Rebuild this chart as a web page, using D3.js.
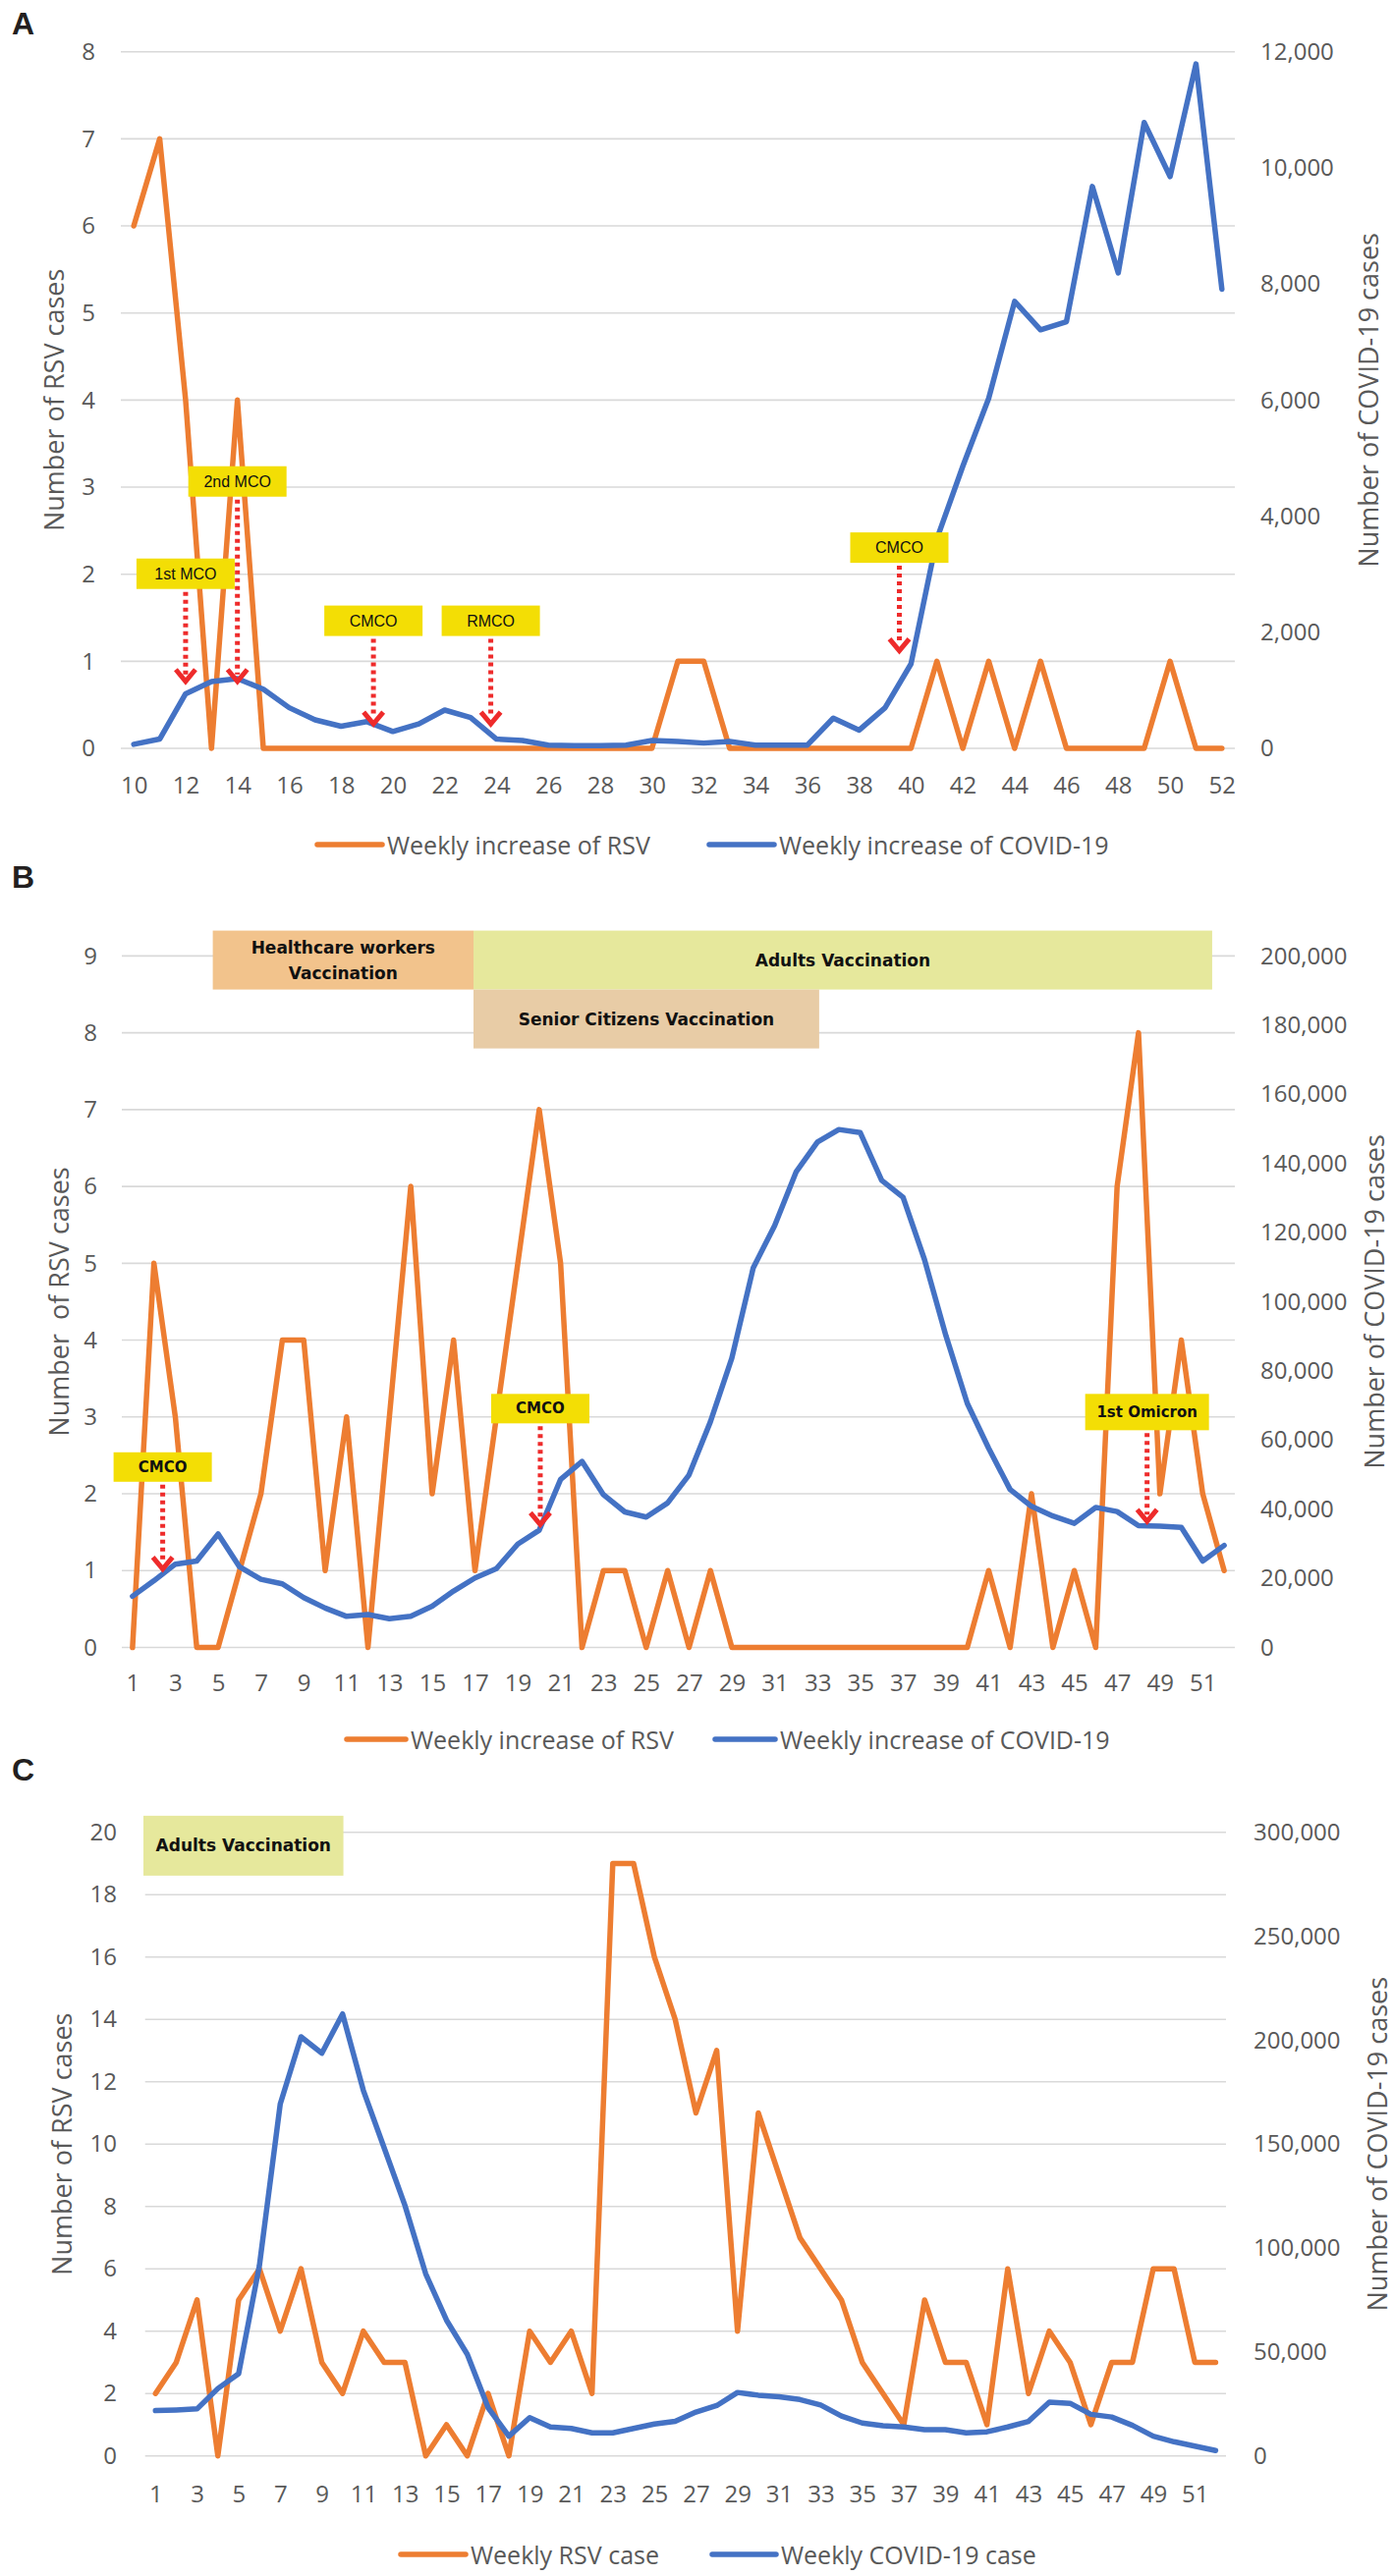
<!DOCTYPE html>
<html>
<head>
<meta charset="utf-8">
<script src="https://cdnjs.cloudflare.com/ajax/libs/d3/7.8.5/d3.min.js"></script>
<style>
  body { margin: 0; background: #fff; }
  svg { display: block; }
</style>
</head>
<body>
<svg id="chart" width="1418" height="2623"></svg>
<script>
// ---- data ----
const weeksA = [10, 11, 12, 13, 14, 15, 16, 17, 18, 19, 20, 21, 22, 23, 24, 25, 26, 27, 28, 29, 30,
  31, 32, 33, 34, 35, 36, 37, 38, 39, 40, 41, 42, 43, 44, 45, 46, 47, 48, 49, 50, 51, 52];
const rsvA = [6, 7, 4, 0, 4, 0, 0, 0, 0, 0, 0, 0, 0, 0, 0, 0, 0, 0, 0, 0, 0,
  1, 1, 0, 0, 0, 0, 0, 0, 0, 0, 1, 0, 1, 0, 1, 0, 0, 0, 0, 1, 0, 0];
const covidA = [70, 160, 940, 1150, 1200, 1020, 700, 490, 380, 460, 290, 420, 660, 530, 160, 135, 56, 47, 47, 56, 135,
  118, 91, 118, 56, 56, 56, 520, 315, 700, 1455, 3610, 4860, 6030, 7700, 7210, 7350, 9680, 8190, 10780, 9850, 11790, 7910];
const xTicksA = [10, 12, 14, 16, 18, 20, 22, 24, 26, 28, 30, 32, 34, 36, 38, 40, 42, 44, 46, 48, 50, 52];

const weeksBC = [1, 2, 3, 4, 5, 6, 7, 8, 9, 10, 11, 12, 13, 14, 15, 16, 17, 18, 19, 20, 21, 22, 23, 24, 25, 26,
  27, 28, 29, 30, 31, 32, 33, 34, 35, 36, 37, 38, 39, 40, 41, 42, 43, 44, 45, 46, 47, 48, 49, 50, 51, 52];
const xTicksBC = [1, 3, 5, 7, 9, 11, 13, 15, 17, 19, 21, 23, 25, 27, 29, 31, 33, 35, 37, 39, 41, 43, 45, 47, 49, 51];

const rsvB = [0, 5, 3, 0, 0, 1, 2, 4, 4, 1, 3, 0, 3, 6, 2, 4, 1, 3, 5, 7, 5, 0, 1, 1, 0, 1,
  0, 1, 0, 0, 0, 0, 0, 0, 0, 0, 0, 0, 0, 0, 1, 0, 2, 0, 1, 0, 6, 8, 2, 4, 2, 1];
const covidB = [14800, 19300, 24100, 25000, 32800, 23300, 19700, 18400, 14400, 11400, 9000, 9500, 8300, 9000,
  11900, 16300, 20100, 22800, 29900, 33900, 48600, 53800, 44200, 39200, 37700, 41800, 49900,
  65300, 83700, 109800, 122000, 137500, 146200, 149800, 148900, 135100, 130200, 112200, 90200,
  70600, 57600, 45700, 40800, 38000, 35900, 40500, 39300, 35200, 35100, 34700, 25000, 29500];

const rsvC = [2, 3, 5, 0, 5, 6, 4, 6, 3, 2, 4, 3, 3, 0, 1, 0, 2, 0, 4, 3, 4, 2, 19, 19, 16, 14,
  11, 13, 4, 11, 9, 7, 6, 5, 3, 2, 1, 5, 3, 3, 1, 6, 2, 4, 3, 1, 3, 3, 6, 6, 3, 3];
const covidC = [21800, 22100, 22600, 32400, 39500, 91600, 169200, 201600, 193700, 212600, 175800, 148200, 120500,
  87600, 65300, 48900, 23200, 9500, 18400, 13900, 13200, 11100, 11100, 13200, 15300, 16600, 21100,
  24200, 30500, 29200, 28400, 27100, 24500, 19200, 15800, 14500, 13900, 12600, 12600, 11100, 11600,
  13900, 16600, 25800, 25300, 20000, 18700, 14700, 9500, 6800, 4700, 2600];

// measures / vaccination phases
const notesA = [
  { label: '1st MCO', week: 12, top: 2.18, tip: 0.77 },
  { label: '2nd MCO', week: 14, top: 3.24, tip: 0.77 },
  { label: 'CMCO', week: 19.25, top: 1.64, tip: 0.28 },
  { label: 'RMCO', week: 23.78, top: 1.64, tip: 0.28 },
  { label: 'CMCO', week: 39.55, top: 2.48, tip: 1.12 }
];
const notesB = [
  { label: 'CMCO', week: 2.41, top: 2.54, tip: 1.02 },
  { label: 'CMCO', week: 20.05, top: 3.30, tip: 1.60 },
  { label: '1st Omicron', week: 48.4, top: 3.30, tip: 1.64 }
];
const phasesB = [
  { label: ['Healthcare workers', 'Vaccination'], start: 4.75, end: 16.93, row: 0, color: '#F2C38C' },
  { label: ['Adults Vaccination'], start: 16.93, end: 51.44, row: 0, color: '#E6E89C' },
  { label: ['Senior Citizens Vaccination'], start: 16.93, end: 33.08, row: 1, color: '#E8CCA6' }
];
const phasesC = [
  { label: ['Adults Vaccination'], start: 0.42, end: 10.04, row: 0, color: '#E6E89C' }
];

// ---- drawing ----
const FONT = "'Open Sans', 'Noto Sans', sans-serif";
const GREY = '#595959';
const ORANGE = '#ED7D31';
const BLUE = '#4472C4';
const RED = '#EE2B2B';
const YELLOW = '#F3DE05';

const svg = d3.select('#chart');

function drawPanel(p) {
  const g = svg.append('g');
  const x = d3.scaleLinear()
    .domain([p.weeks[0] - 0.5, p.weeks[p.weeks.length - 1] + 0.5])
    .range([p.left, p.right]);
  const yL = d3.scaleLinear().domain([0, p.leftMax]).range([p.bottom, p.top]);
  const yR = d3.scaleLinear().domain([0, p.rightMax]).range([p.bottom, p.top]);

  // gridlines
  g.append('g').selectAll('line')
    .data(d3.range(0, p.leftMax + p.leftStep / 2, p.leftStep))
    .join('line')
    .attr('x1', p.left).attr('x2', p.right)
    .attr('y1', d => yL(d)).attr('y2', d => yL(d))
    .attr('stroke', '#D9D9D9').attr('stroke-width', 1.6);

  const axisLeft = g.append('g')
    .attr('transform', `translate(${p.left},0)`)
    .call(d3.axisLeft(yL)
      .tickValues(d3.range(0, p.leftMax + p.leftStep / 2, p.leftStep))
      .tickSize(0).tickPadding(p.left - p.leftLabelX));
  const axisRight = g.append('g')
    .attr('transform', `translate(${p.right},0)`)
    .call(d3.axisRight(yR)
      .tickValues(d3.range(0, p.rightMax + p.rightStep / 2, p.rightStep))
      .tickFormat(d3.format(','))
      .tickSize(0).tickPadding(p.rightLabelX - p.right));
  const axisBottom = g.append('g')
    .attr('transform', `translate(0,${p.bottom})`)
    .call(d3.axisBottom(x).tickValues(p.xTicks).tickFormat(d3.format('d'))
      .tickSize(0).tickPadding(p.xPad));
  [axisLeft, axisRight, axisBottom].forEach(a => {
    a.select('.domain').remove();
    a.selectAll('text')
      .attr('fill', GREY)
      .style('font-family', FONT)
      .style('font-size', '24px');
  });

  // vaccination phase bands
  (p.phases || []).forEach(ph => {
    const y0 = yL(p.phaseTop) + ph.row * p.phaseH;
    g.append('rect')
      .attr('x', x(ph.start)).attr('y', y0)
      .attr('width', x(ph.end) - x(ph.start)).attr('height', p.phaseH)
      .attr('fill', ph.color);
    const cx = (x(ph.start) + x(ph.end)) / 2;
    const cy = y0 + p.phaseH / 2;
    ph.label.forEach((t, i) => {
      g.append('text')
        .attr('x', cx)
        .attr('y', cy + (i - (ph.label.length - 1) / 2) * 26)
        .attr('text-anchor', 'middle').attr('dominant-baseline', 'central')
        .style('font-family', "'DejaVu Sans', sans-serif")
        .style('font-weight', 'bold').style('font-size', '17px')
        .attr('fill', '#111')
        .text(t);
    });
  });

  const line = vals => d3.line()
    .x((d, i) => x(p.weeks[i]))
    .y(d => vals(d))
    .curve(d3.curveLinear);

  g.append('path')
    .datum(p.rsv)
    .attr('d', line(d => yL(d)))
    .attr('fill', 'none').attr('stroke', ORANGE).attr('stroke-width', 5.5)
    .attr('stroke-linejoin', 'round').attr('stroke-linecap', 'round');
  g.append('path')
    .datum(p.covid)
    .attr('d', line(d => yR(d)))
    .attr('fill', 'none').attr('stroke', BLUE).attr('stroke-width', 5.5)
    .attr('stroke-linejoin', 'round').attr('stroke-linecap', 'round');

  // measure labels with dotted arrows
  (p.notes || []).forEach(n => {
    const cx = x(n.week);
    const w = n.label.length > 8 ? 126 : 100;
    const h = n.label.length > 8 ? p.noteH + 7 : p.noteH;
    const yTop = yL(n.top);
    const yTip = yL(n.tip);
    g.append('line')
      .attr('x1', cx).attr('x2', cx)
      .attr('y1', yTop + h + 3).attr('y2', yTip - 7)
      .attr('stroke', RED).attr('stroke-width', 5)
      .attr('stroke-dasharray', '4 4');
    g.append('path')
      .attr('d', `M${cx - 10},${yTip - 12} L${cx},${yTip} L${cx + 10},${yTip - 12}`)
      .attr('fill', 'none').attr('stroke', RED).attr('stroke-width', 5)
      .attr('stroke-linejoin', 'miter');
    g.append('rect')
      .attr('x', cx - w / 2).attr('y', yTop)
      .attr('width', w).attr('height', h)
      .attr('fill', YELLOW);
    g.append('text')
      .attr('x', cx).attr('y', yTop + h / 2)
      .attr('text-anchor', 'middle').attr('dominant-baseline', 'central')
      .style('font-family', p.noteBold ? "'DejaVu Sans', sans-serif" : "'Liberation Sans', Arial, sans-serif")
      .style('font-weight', p.noteBold ? 'bold' : 'normal')
      .style('font-size', p.noteBold ? '15px' : '16px')
      .attr('fill', '#111')
      .text(n.label);
  });

  // panel letter
  g.append('text')
    .attr('x', 12).attr('y', p.letterY)
    .style('font-family', "'Liberation Sans', Arial, sans-serif")
    .style('font-weight', 'bold').style('font-size', '32px')
    .attr('fill', '#231F20')
    .text(p.letter);

  // axis titles
  [[p.leftTitleX, p.leftTitle], [p.rightTitleX, p.rightTitle]].forEach(([tx, t]) => {
    g.append('text')
      .attr('transform', `translate(${tx},${(p.top + p.bottom) / 2}) rotate(-90)`)
      .attr('text-anchor', 'middle').attr('dominant-baseline', 'central')
      .style('font-family', FONT).style('font-size', '27px')
      .style('white-space', 'pre')
      .attr('fill', GREY)
      .text(t);
  });

  // legend
  p.legend.forEach(item => {
    g.append('line')
      .attr('x1', item.x1).attr('x2', item.x2)
      .attr('y1', p.legendY).attr('y2', p.legendY)
      .attr('stroke', item.color).attr('stroke-width', 5.5)
      .attr('stroke-linecap', 'round');
    g.append('text')
      .attr('x', item.x2 + 5).attr('y', p.legendY)
      .attr('dominant-baseline', 'central')
      .style('font-family', FONT).style('font-size', '25px')
      .attr('fill', GREY)
      .text(item.label);
  });
}

drawPanel({
  letter: 'A', letterY: 35,
  weeks: weeksA, rsv: rsvA, covid: covidA, xTicks: xTicksA,
  left: 123, right: 1257, top: 52.7, bottom: 762,
  leftMax: 8, leftStep: 1, rightMax: 12000, rightStep: 2000,
  leftLabelX: 97, rightLabelX: 1283, xPad: 29,
  leftTitle: 'Number of RSV cases', rightTitle: 'Number of COVID-19 cases',
  leftTitleX: 54, rightTitleX: 1392,
  notes: notesA, noteH: 31, noteBold: false,
  legendY: 860,
  legend: [
    { label: 'Weekly increase of RSV', color: ORANGE, x1: 323, x2: 389 },
    { label: 'Weekly increase of COVID-19', color: BLUE, x1: 722, x2: 788 }
  ]
});

drawPanel({
  letter: 'B', letterY: 904,
  weeks: weeksBC, rsv: rsvB, covid: covidB, xTicks: xTicksBC,
  left: 124, right: 1257, top: 973.4, bottom: 1677.5,
  leftMax: 9, leftStep: 1, rightMax: 200000, rightStep: 20000,
  leftLabelX: 99, rightLabelX: 1283, xPad: 27.5,
  leftTitle: 'Number  of RSV cases', rightTitle: 'Number of COVID-19 cases',
  leftTitleX: 59, rightTitleX: 1398,
  notes: notesB, noteH: 30, noteBold: true,
  phases: phasesB, phaseTop: 9.33, phaseH: 60,
  legendY: 1771,
  legend: [
    { label: 'Weekly increase of RSV', color: ORANGE, x1: 353, x2: 413 },
    { label: 'Weekly increase of COVID-19', color: BLUE, x1: 728, x2: 789 }
  ]
});

drawPanel({
  letter: 'C', letterY: 1813,
  weeks: weeksBC, rsv: rsvC, covid: covidC, xTicks: xTicksBC,
  left: 147.7, right: 1248, top: 1865.7, bottom: 2500.7,
  leftMax: 20, leftStep: 2, rightMax: 300000, rightStep: 50000,
  leftLabelX: 119, rightLabelX: 1276, xPad: 30,
  leftTitle: 'Number of RSV cases', rightTitle: 'Number of COVID-19 cases',
  leftTitleX: 62, rightTitleX: 1401,
  phases: phasesC, phaseTop: 20.53, phaseH: 61,
  legendY: 2601,
  legend: [
    { label: 'Weekly RSV case', color: ORANGE, x1: 408, x2: 474 },
    { label: 'Weekly COVID-19 case', color: BLUE, x1: 725, x2: 790 }
  ]
});
</script>
</body>
</html>
